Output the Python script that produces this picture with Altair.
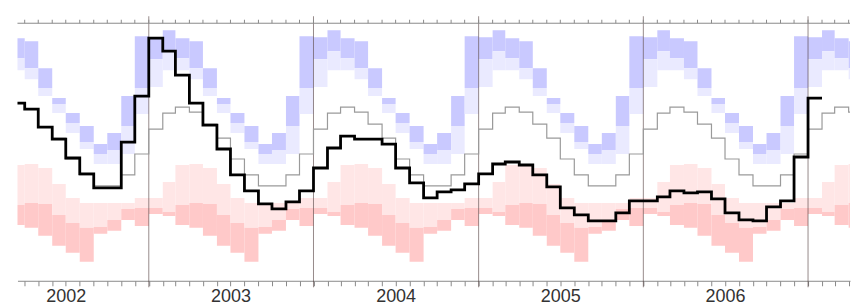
import altair as alt
import pandas as pd

# ---------------- data ----------------
# Monthly climatology (calendar month Jan..Dec), level units
clim_max    = [244, 251, 243, 240, 213, 183, 168, 155, 137, 148, 185, 245]
clim_p90    = [222, 230, 223, 213, 193, 177, 158, 139, 127, 131, 155, 193]
clim_p75    = [194, 211, 211, 202, 185, 168, 148, 132, 117, 117, 127, 167]
clim_median = [152, 168, 174, 169, 157, 143, 122, 106,  95,  95, 106, 127]
clim_p25    = [ 83,  99, 116, 117, 113,  97,  83,  78,  78,  78,  78,  83]
clim_p10    = [ 73,  69,  76,  78,  77,  66,  58,  53,  54,  61,  72,  73]
clim_min    = [ 67,  65,  56,  53,  45,  35,  28,  19,  47,  50,  61,  55]

# Observed monthly level, Mar 2002 .. Jan 2007
observed_start = (2002, 3)
observed = [
    178, 172, 154, 142, 123, 107, 93, 93, 139, 185,                 # 2002 Mar-Dec
    243, 230, 206, 178, 156, 132, 106, 90, 77, 72, 79, 90,          # 2003
    113, 133, 145, 142, 142, 137, 113, 98, 83, 89, 91, 97,          # 2004
    107, 117, 119, 116, 106, 94, 73, 66, 60, 60, 68, 80,            # 2005
    80, 84, 90, 88, 89, 82, 68, 61, 60, 74, 80, 124,                # 2006
    183,                                                            # 2007 Jan
]
median_start = (2002, 6)

band_names = ["Highest", "High", "Low", "Lowest"]
band_colors = ["#c9c9ff", "#eaeaff", "#ffe6e6", "#ffc9c9"]

years = [2002, 2003, 2004, 2005, 2006, 2007]
window_start = (2002, 3, 16)
window_end = (2007, 4, 4)
bands_first, bands_last = (2002, 3), (2007, 4)


# ---------------- helpers ----------------
def next_month(y, m):
    return (y + 1, 1) if m == 12 else (y, m + 1)


def mstr(y, m):
    return f"{y:04d}-{m:02d}-01"


def month_range(a, b):
    out = []
    cur = a
    while cur <= b:
        out.append(cur)
        cur = next_month(*cur)
    return out


months = month_range(bands_first, bands_last)

band_rows = []
for (y, m) in months:
    ny, nm = next_month(y, m)
    i = m - 1
    spans = [
        (clim_p90[i], clim_max[i], "Highest"),
        (clim_p75[i], clim_p90[i], "High"),
        (clim_p10[i], clim_p25[i], "Low"),
        (clim_min[i], clim_p10[i], "Lowest"),
    ]
    for lo, hi, name in spans:
        band_rows.append(dict(start=mstr(y, m), end=mstr(ny, nm), lo=lo, hi=hi, band=name))
bands_df = pd.DataFrame(band_rows)

med_months = month_range(median_start, bands_last)
median_rows = [dict(start=mstr(y, m), level=clim_median[m - 1]) for (y, m) in med_months]
ly, lm = next_month(*med_months[-1])
median_rows.append(dict(start=mstr(ly, lm), level=clim_median[med_months[-1][1] - 1]))
median_df = pd.DataFrame(median_rows)

obs_months = []
cur = observed_start
for _ in observed:
    obs_months.append(cur)
    cur = next_month(*cur)
obs_rows = [dict(start=mstr(y, m), level=v) for (y, m), v in zip(obs_months, observed)]
obs_rows.append(dict(start=mstr(*cur), level=observed[-1]))
obs_df = pd.DataFrame(obs_rows)

tick_months = [ym for ym in months if ym != bands_first]
ticks_df = pd.DataFrame({"start": [mstr(y, m) for (y, m) in tick_months]})
yearline_df = pd.DataFrame({"start": [mstr(y, 1) for y in years[1:]]})
one_df = pd.DataFrame({"a": [0]})

# ---------------- chart ----------------
W, H = 834, 258

xscale = alt.Scale(
    type="utc",
    domain=[
        alt.DateTime(year=window_start[0], month=window_start[1], date=window_start[2], utc=True),
        alt.DateTime(year=window_end[0], month=window_end[1], date=window_end[2], utc=True),
    ],
)
xaxis = alt.Axis(
    values=[alt.DateTime(year=y, month=m, date=1, utc=True) for (y, m) in tick_months],
    labelExpr="utcmonth(datum.value) == 6 ? utcFormat(datum.value, '%Y') : ''",
    title=None,
    grid=False,
    tickSize=5,
    tickColor="#8a8a8a",
    domainColor="#8a8a8a",
    labelFont="Liberation Sans",
    labelFontSize=18,
    labelColor="#333333",
    labelPadding=2,
    labelOverlap=False,
    labelFlush=False,
)
yscale = alt.Scale(domain=[0, H], nice=False, zero=False)

bands = alt.Chart(bands_df).mark_rect(clip=True).encode(
    x=alt.X("start:T", scale=xscale, axis=xaxis),
    x2="end:T",
    y=alt.Y("lo:Q", scale=yscale, axis=None),
    y2="hi:Q",
    color=alt.Color("band:N", scale=alt.Scale(domain=band_names, range=band_colors), legend=None),
)

year_rules = alt.Chart(yearline_df).mark_rule(color="#402a2a", opacity=0.55, strokeWidth=1).encode(
    x=alt.X("start:T", scale=xscale, axis=xaxis),
    y=alt.value(-7),
    y2=alt.value(H + 6.5),
)

median_line = alt.Chart(median_df).mark_line(
    interpolate="step-after", clip=True, color="#9a9a9a", strokeWidth=1.2
).encode(
    x=alt.X("start:T", scale=xscale, axis=xaxis),
    y=alt.Y("level:Q", scale=yscale, axis=None),
)

obs_line = alt.Chart(obs_df).mark_line(
    interpolate="step-after", clip=True, color="#000000", strokeWidth=2.8
).encode(
    x=alt.X("start:T", scale=xscale, axis=xaxis),
    y=alt.Y("level:Q", scale=yscale, axis=None),
)

top_line = alt.Chart(one_df).mark_rule(color="#8a8a8a", strokeWidth=1).encode(
    x=alt.value(0), x2=alt.value(W), y=alt.value(0)
)

top_ticks = alt.Chart(ticks_df).mark_rule(color="#8a8a8a", strokeWidth=1).encode(
    x=alt.X("start:T", scale=xscale, axis=xaxis),
    y=alt.value(-3.5),
    y2=alt.value(0),
)

chart = (
    alt.layer(bands, year_rules, median_line, obs_line, top_line, top_ticks)
    .properties(
        width=W,
        height=H,
        padding={"left": 8.5, "top": 7, "right": 0, "bottom": 0},
        background="white",
    )
    .configure_view(stroke=None)
)

chart.save("out.html", embed_options={"renderer": "svg", "actions": False})
